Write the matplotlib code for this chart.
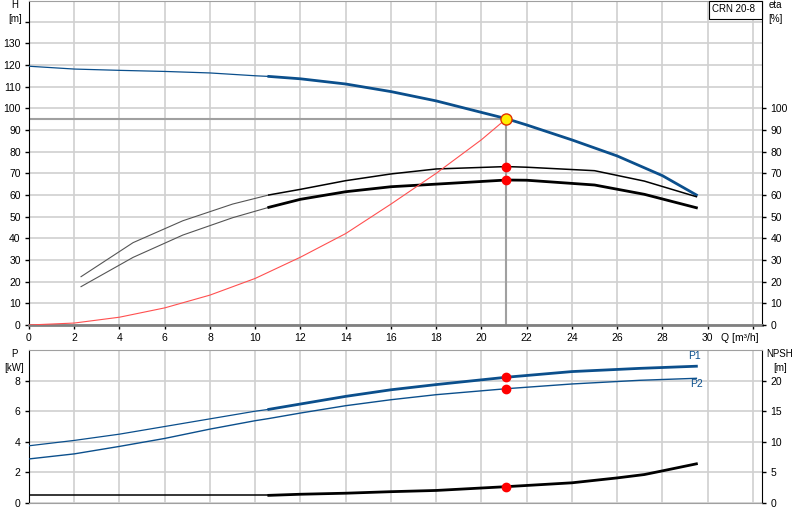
import matplotlib
matplotlib.use('Agg')
import matplotlib.pyplot as plt
from matplotlib.patches import Rectangle

plt.rcParams['font.family'] = ['Liberation Sans', 'DejaVu Sans']
fs = 7

# pump curve H(Q)
q_h = [0, 2, 4, 6, 8, 10, 10.6, 12, 14, 16, 18, 20, 21.1, 22, 24, 26, 28, 29.5]
h = [119.4, 118.1, 117.5, 117, 116.3, 115, 114.7, 113.6, 111.2, 107.7, 103.4, 98.1, 95.2, 92.3, 85.4, 78, 68.9, 60]

# efficiency curves
q_eta = [2.3, 4.6, 6.8, 9, 10.6, 12, 14, 16, 18, 21.1, 22, 25, 27.2, 29.5]
eta_upper = [22.3, 38, 48.1, 55.8, 60, 62.6, 66.6, 69.7, 72, 73.1, 72.8, 71.2, 66.4, 59.2]
eta_lower = [17.7, 31.2, 41.5, 49.5, 54.3, 58, 61.5, 63.8, 65, 66.9, 66.8, 64.6, 60.3, 54.1]

# system curve
q_sys = [0, 2, 4, 6, 8, 10, 12, 14, 16, 18, 20, 21.1]
h_sys = [0, 0.9, 3.6, 7.9, 13.8, 21.5, 31.3, 42.2, 55.8, 70, 85.5, 95.2]

# duty point
q_duty = 21.1
h_duty = 95.2
eta_duty = [73.1, 66.9]
p_duty = [8.22, 7.47]
npsh_duty = 2.67

# power curves
q_p = [0, 2, 4, 6, 8, 10, 10.6, 12, 14, 16, 18, 21.1, 24, 27, 29.5]
p1 = [3.74, 4.09, 4.5, 5.0, 5.5, 6.0, 6.12, 6.47, 6.97, 7.4, 7.74, 8.22, 8.59, 8.8, 8.94]
p2 = [2.88, 3.21, 3.7, 4.22, 4.83, 5.38, 5.52, 5.88, 6.36, 6.75, 7.08, 7.47, 7.78, 8.02, 8.15]

# NPSH
q_npsh = [0, 10.6, 12, 14, 16, 18, 21.1, 24, 26, 27.2, 28, 29.5]
npsh = [1.25, 1.25, 1.43, 1.6, 1.85, 2.05, 2.67, 3.3, 4.1, 4.65, 5.25, 6.4]

blue = '#0b4f8c'
grid_c = '#d0d0d0'
split = 10.6

fig = plt.figure(figsize=(8, 5.2), dpi=100)

# ---- top panel ----
ax = fig.add_axes([29/800, 1 - 325/520, 733/800, 324/520])
ax.set_xlim(0, 32.4)
ax.set_ylim(0, 149.5)
ax.set_xticks(range(0, 33, 2))
ax.set_xticklabels([str(v) if v <= 30 else '' for v in range(0, 33, 2)])
ax.set_yticks(range(0, 141, 10))
ax.set_yticklabels([str(v) if v <= 130 else '' for v in range(0, 141, 10)])
ax.grid(True, color=grid_c, lw=1.2)
ax.set_axisbelow(True)
ax.tick_params(direction='out', length=3, width=1, labelsize=fs + 0.5, pad=3)
for s in ['left', 'right']:
    ax.spines[s].set_color('black')
ax.spines['top'].set_color('#a0a0a0')
ax.spines['bottom'].set_color('#808080')
ax.spines['bottom'].set_linewidth(2)

# helper lines to duty point
ax.plot([0, q_duty], [h_duty, h_duty], color='#a0a0a0', lw=1.5, zorder=2)
ax.plot([q_duty, q_duty], [0, h_duty], color='#a0a0a0', lw=1.5, zorder=2)

# H curve: thin then thick
i = q_h.index(split)
ax.plot(q_h[:i + 1], h[:i + 1], color=blue, lw=0.9, zorder=3)
ax.plot(q_h[i:], h[i:], color=blue, lw=2, zorder=3)

# eta curves
j = q_eta.index(split)
ax.plot(q_eta[:j + 1], eta_upper[:j + 1], color='#555555', lw=0.8, zorder=3)
ax.plot(q_eta[j:], eta_upper[j:], color='black', lw=1.1, zorder=3)
ax.plot(q_eta[:j + 1], eta_lower[:j + 1], color='#555555', lw=0.8, zorder=3)
ax.plot(q_eta[j:], eta_lower[j:], color='black', lw=2, zorder=3)

# system curve
ax.plot(q_sys, h_sys, color='#ff5050', lw=0.8, zorder=3)

ax.plot([q_duty, q_duty], eta_duty, 'o', color='red', ms=6, zorder=5)
ax.plot(q_duty, h_duty, 'o', color='#ffee00', mec='#e03000', mew=1, ms=8, zorder=6)

ax.text(30.6, -3.6, 'Q [m³/h]', fontsize=fs + 0.5, ha='left', va='top')

# type label box
fig.patches.append(Rectangle((709/800, 1 - 19/520), 53/800, 18/520, transform=fig.transFigure,
                             fc='white', ec='black', lw=0.8, zorder=10))
fig.text(733/800, 1 - 9.5/520, 'CRN 20-8', fontsize=fs, ha='center', va='center', zorder=11)

ax2 = ax.twinx()
ax2.set_ylim(0, 149.5)
ax2.set_yticks(range(0, 101, 10))
ax2.tick_params(direction='out', length=3, width=1, labelsize=fs + 0.5, pad=3)
for s in ax2.spines.values():
    s.set_visible(False)

fig.text(15/800, 1 - 12/520, 'H\n[m]', fontsize=fs, ha='center', va='center', linespacing=1.4)
fig.text(775/800, 1 - 12/520, 'eta\n[%]', fontsize=fs, ha='center', va='center', linespacing=1.4)

# ---- bottom panel ----
bx = fig.add_axes([29/800, 1 - 503/520, 733/800, 153/520])
bx.set_xlim(0, 32.4)
bx.set_ylim(0, 10)
bx.set_xticks(range(0, 33, 2))
bx.set_yticks(range(0, 9, 2))
bx.grid(True, color=grid_c, lw=1.2)
bx.set_axisbelow(True)
bx.tick_params(axis='x', length=0, labelbottom=False)
bx.tick_params(axis='y', direction='out', length=3, width=1, labelsize=fs + 0.5, pad=3)
bx.spines['top'].set_color('#a0a0a0')
bx.spines['bottom'].set_color('#a0a0a0')

k = q_p.index(split)
bx.plot(q_p[:k + 1], p1[:k + 1], color=blue, lw=0.9, zorder=3)
bx.plot(q_p[k:], p1[k:], color=blue, lw=2, zorder=3)
bx.plot(q_p, p2, color=blue, lw=1.0, zorder=3)
bx.plot([q_duty, q_duty], p_duty, 'o', color='red', ms=6, zorder=5)
bx.text(29.4, 9.6, 'P1', color=blue, fontsize=fs + 0.5, ha='center', va='center')
bx.text(29.5, 7.75, 'P2', color=blue, fontsize=fs + 0.5, ha='center', va='center')

bx2 = bx.twinx()
bx2.set_ylim(0, 25)
bx2.set_yticks(range(0, 21, 5))
bx2.tick_params(direction='out', length=3, width=1, labelsize=fs + 0.5, pad=3)
for s in bx2.spines.values():
    s.set_visible(False)
m = q_npsh.index(split)
bx2.plot(q_npsh[:m + 1], npsh[:m + 1], color='black', lw=1.1, zorder=3)
bx2.plot(q_npsh[m:], npsh[m:], color='black', lw=2, zorder=3)
bx2.plot(q_duty, npsh_duty, 'o', color='red', ms=6, zorder=5)

fig.text(14/800, 1 - 361/520, 'P\n[kW]', fontsize=fs, ha='center', va='center', linespacing=1.4)
fig.text(780/800, 1 - 361/520, 'NPSH\n[m]', fontsize=fs, ha='center', va='center', linespacing=1.4)

fig.savefig('out.png', dpi=100)
